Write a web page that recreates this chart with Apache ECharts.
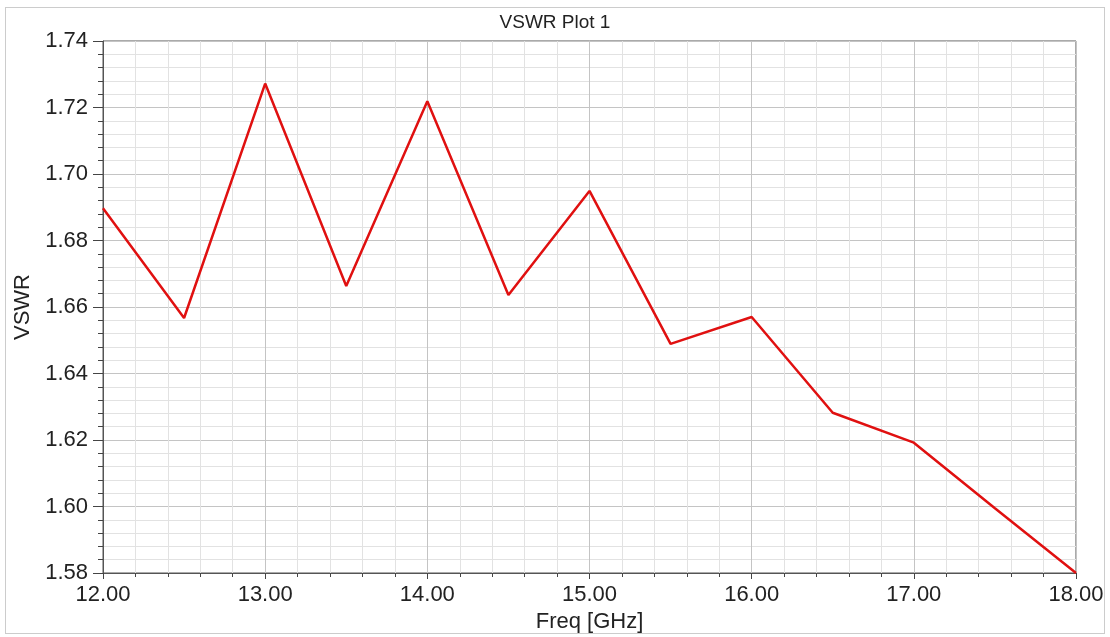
<!DOCTYPE html>
<html>
<head>
<meta charset="utf-8">
<script src="https://cdn.jsdelivr.net/npm/echarts@6/dist/echarts.min.js"></script>
<style>
  html, body { margin: 0; padding: 0; background: #fff; }
  #frame { position: absolute; left: 5px; top: 7px; width: 1100px; height: 627px; border: 1px solid #ccc; box-sizing: border-box; }
  #chart { width: 1110px; height: 637px; }
</style>
</head>
<body>
<div id="frame"></div>
<div id="chart"></div>
<script>
const freqs = [12.0, 12.5, 13.0, 13.5, 14.0, 14.5, 15.0, 15.5, 16.0, 16.5, 17.0, 17.5, 18.0]
const vswr = [1.6897, 1.6567, 1.7272, 1.6663, 1.7219, 1.6636, 1.6949, 1.6489, 1.6570, 1.6282, 1.6192, 1.5995, 1.5800]

const FONT = '"Liberation Sans", Arial, sans-serif'

const chart = echarts.init(document.getElementById('chart'))

chart.setOption({
  animation: false,
  title: {
    text: 'VSWR Plot 1',
    left: 'center',
    top: 8,
    textStyle: { fontFamily: FONT, fontSize: 19, fontWeight: 'normal', color: '#222' },
  },
  grid: {
    left: 103, right: 34, top: 41, bottom: 64,
    outerBoundsMode: 'none', containLabel: false,
    show: true, borderColor: '#555', borderWidth: 1,
  },
  xAxis: {
    type: 'value',
    min: 12,
    max: 18,
    interval: 1,
    name: 'Freq [GHz]',
    nameLocation: 'middle',
    nameGap: 35,
    nameTextStyle: { fontFamily: FONT, fontSize: 22, color: '#222' },
    axisLine: { lineStyle: { color: '#555' } },
    axisTick: { length: 6, lineStyle: { color: '#444' } },
    minorTick: { show: true, splitNumber: 5, length: 4, lineStyle: { color: '#444' } },
    axisLabel: { fontFamily: FONT, fontSize: 22, color: '#222', margin: 11, formatter: v => v.toFixed(2) },
    splitLine: { show: true, lineStyle: { color: '#c4c4c4' } },
    minorSplitLine: { show: true, lineStyle: { color: '#e2e2e2' } },
  },
  yAxis: {
    type: 'value',
    min: 1.58,
    max: 1.74,
    interval: 0.02,
    name: 'VSWR',
    nameLocation: 'middle',
    nameGap: 66,
    nameTextStyle: { fontFamily: FONT, fontSize: 22, color: '#222' },
    axisLine: { show: true, lineStyle: { color: '#555' } },
    axisTick: { show: true, length: 10, lineStyle: { color: '#444' } },
    minorTick: { show: true, splitNumber: 5, length: 5, lineStyle: { color: '#444' } },
    axisLabel: { fontFamily: FONT, fontSize: 22, color: '#222', margin: 15, formatter: v => v.toFixed(2) },
    splitLine: { show: true, lineStyle: { color: '#c4c4c4' } },
    minorSplitLine: { show: true, lineStyle: { color: '#e2e2e2' } },
  },
  series: [
    {
      name: 'VSWR',
      type: 'line',
      data: freqs.map((f, i) => [f, vswr[i]]),
      symbol: 'none',
      lineStyle: { color: '#e01010', width: 2.5 },
    },
  ],
})
</script>
</body>
</html>
